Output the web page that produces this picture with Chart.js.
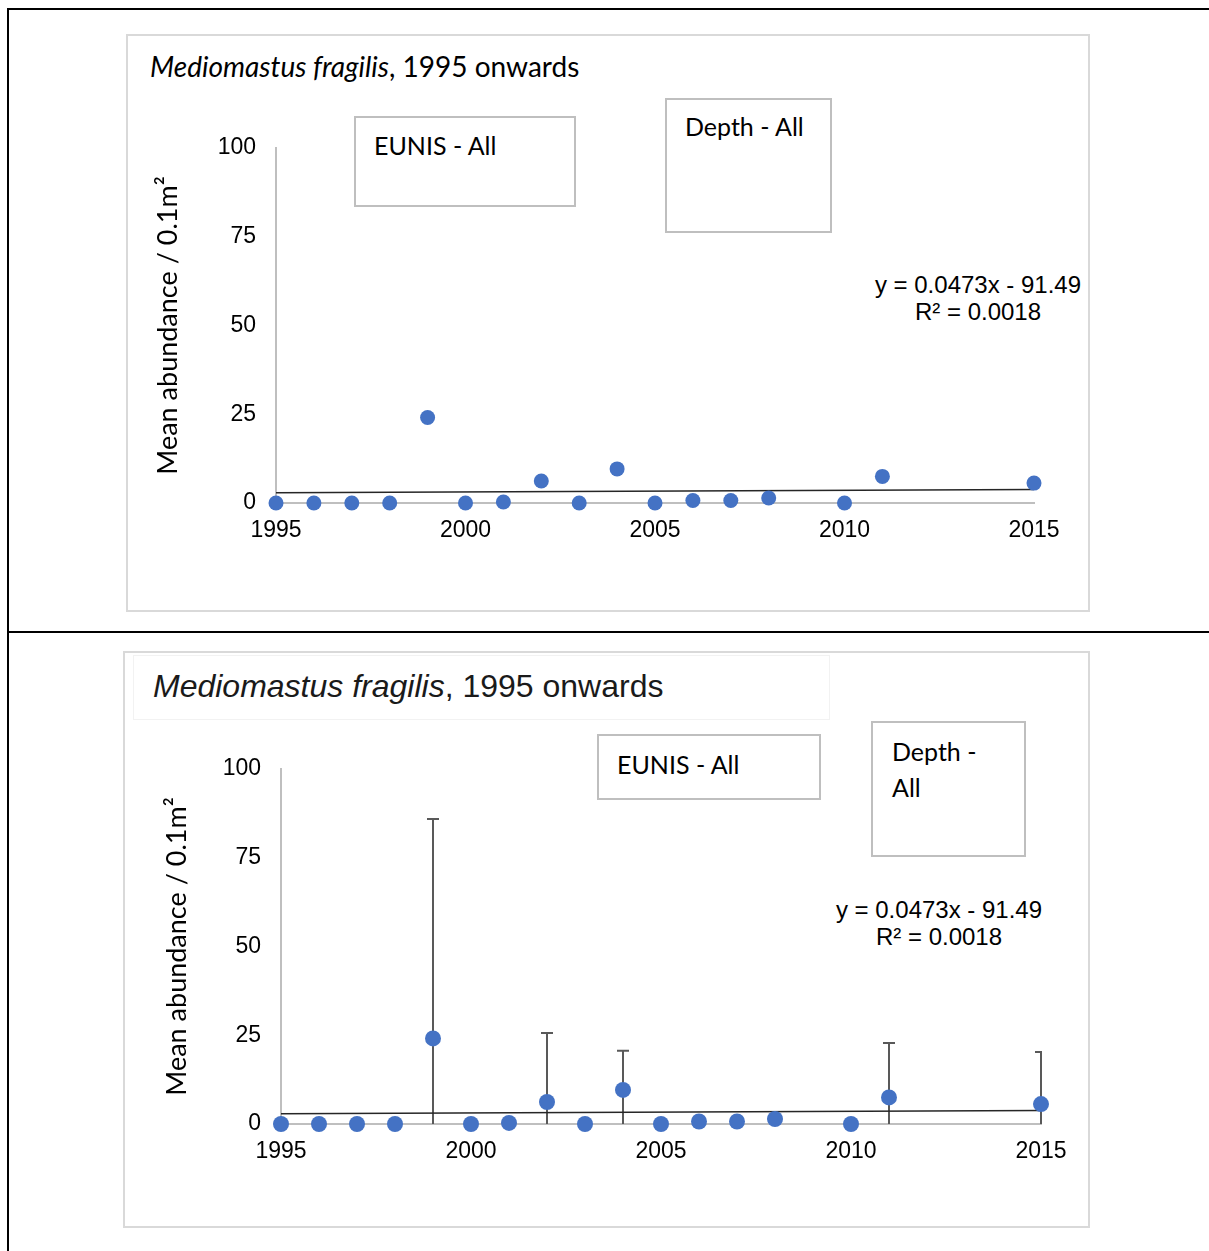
<!DOCTYPE html>
<html>
<head>
<meta charset="utf-8">
<script src="https://cdn.jsdelivr.net/npm/chart.js@4.4.1/dist/chart.umd.min.js"></script>
<style>
body { margin: 0; background: #fff; }
#page { position: relative; width: 1209px; height: 1251px; overflow: hidden; font-family: Lato, sans-serif; color: #000; }
.rule { position: absolute; background: #000; }
.frame { position: absolute; box-sizing: border-box; border: 2px solid #d9d9d9; }
canvas { position: absolute; }
.tbox { position: absolute; box-sizing: border-box; border: 2px solid #bfbfbf; font-size: 25px; line-height: 30px; padding-left: 18px; white-space: nowrap; }
.eq { position: absolute; width: 260px; font-family: 'Liberation Sans', Arial, sans-serif; font-size: 24px; line-height: 27px; text-align: center; white-space: nowrap; }
.title { position: absolute; white-space: nowrap; }
</style>
</head>
<body>
<div id="page">
  <div class="rule" style="left:7px;top:8px;width:1202px;height:2px"></div>
  <div class="rule" style="left:7px;top:8px;width:2px;height:1243px"></div>
  <div class="rule" style="left:7px;top:631px;width:1202px;height:2px"></div>

  <!-- top panel -->
  <div class="frame" style="left:126px;top:34px;width:964px;height:578px"></div>
  <div class="title" style="left:150px;top:49px;font-size:28px;line-height:34px"><i>Mediomastus fragilis</i>, 1995 onwards</div>
  <div class="tbox" style="left:354px;top:116px;width:222px;height:91px;padding-top:12px">EUNIS - All</div>
  <div class="tbox" style="left:665px;top:98px;width:167px;height:135px;padding-top:11px">Depth - All</div>
  <div class="eq" style="left:848px;top:271px">y = 0.0473x - 91.49<br>R² = 0.0018</div>
  <canvas id="chart1" width="964" height="578" style="left:126px;top:34px"></canvas>

  <!-- bottom panel -->
  <div class="frame" style="left:123px;top:651px;width:967px;height:577px"></div>
  <div class="frame" style="left:133px;top:655px;width:697px;height:65px;border:1px solid #f2f2f2"></div>
  <div class="title" style="left:153px;top:667px;font-family:'Liberation Sans',Arial,sans-serif;font-size:32px;line-height:38px;color:#1a1a1a"><i>Mediomastus fragilis</i>, 1995 onwards</div>
  <div class="tbox" style="left:597px;top:734px;width:224px;height:66px;padding-top:13px">EUNIS - All</div>
  <div class="tbox" style="left:871px;top:721px;width:155px;height:136px;padding-top:10px;line-height:36px;padding-left:19px">Depth -<br>All</div>
  <div class="eq" style="left:809px;top:896px">y = 0.0473x - 91.49<br>R² = 0.0018</div>
  <canvas id="chart2" width="967" height="577" style="left:123px;top:651px"></canvas>
</div>

<script>
// survey years with samples (no data for 2009, 2012-2014)
const years = [1995, 1996, 1997, 1998, 1999, 2000, 2001, 2002, 2003, 2004, 2005, 2006, 2007, 2008, 2010, 2011, 2015];
const abundance = [0, 0, 0, 0, 24.1, 0, 0.3, 6.2, 0, 9.6, 0, 0.7, 0.7, 1.4, 0, 7.5, 5.6];
// standard deviation, only shown in lower chart
const abundanceSD = [0, 0, 0, 0, 61.8, 0, 0, 19.4, 0, 11.0, 0, 0, 0, 0, 0, 15.3, 14.7];

// linear trend ends (y = 0.0473x - 91.49)
const trendYears = [1995, 2015];
const trendValues = [2.87, 3.82];

const yTicks = [0, 25, 50, 75, 100];
const xTicks = [1995, 2000, 2005, 2010, 2015];

const blue = '#4472C4';

const errorBars = {
    id: 'errorBars',
    beforeDatasetsDraw(chart) {
        const ds = chart.data.datasets[0];
        if (!ds.errorSD) return;
        const { ctx, chartArea, scales: { x, y } } = chart;
        ctx.save();
        ctx.beginPath();
        ctx.rect(chartArea.left, chartArea.top - 2, chartArea.right - chartArea.left + 1, chartArea.bottom - chartArea.top + 4);
        ctx.clip();
        ctx.strokeStyle = '#595959';
        ctx.lineWidth = 2;
        ds.data.forEach((p, i) => {
            const sd = ds.errorSD[i];
            if (!sd) return;
            const px = x.getPixelForValue(p.x);
            const top = y.getPixelForValue(p.y + sd);
            const bot = y.getPixelForValue(Math.max(p.y - sd, 0));
            ctx.beginPath();
            ctx.moveTo(px, bot);
            ctx.lineTo(px, top);
            ctx.moveTo(px - 6, top);
            ctx.lineTo(px + 6, top);
            ctx.stroke();
        });
        ctx.restore();
    }
};

function makeChart(id, cfg) {
    const points = years.map((yr, i) => ({ x: yr, y: abundance[i] }));
    const trend = trendYears.map((yr, i) => ({ x: yr, y: trendValues[i] }));
    const tickFont = { family: "'Liberation Sans', Arial, sans-serif", size: 23 };
    const dsPoints = {
        data: points,
        showLine: false,
        pointRadius: cfg.radius,
        pointHoverRadius: cfg.radius,
        pointBackgroundColor: blue,
        pointBorderWidth: 0,
        clip: false,
        order: 0
    };
    if (cfg.withSD) dsPoints.errorSD = abundanceSD;

    return new Chart(document.getElementById(id), {
        type: 'scatter',
        data: {
            datasets: [dsPoints, {
                data: trend,
                showLine: true,
                borderColor: '#262626',
                borderWidth: 1.5,
                pointRadius: 0,
                clip: false,
                order: 1
            }]
        },
        options: {
            responsive: false,
            animation: false,
            layout: { padding: { left: 0, top: cfg.top, right: cfg.right, bottom: 0 } },
            plugins: { legend: { display: false }, tooltip: { enabled: false } },
            scales: {
                x: {
                    type: 'linear',
                    min: 1995,
                    max: 2015,
                    afterBuildTicks: s => { s.ticks = xTicks.map(v => ({ value: v })); },
                    afterFit: s => { s.height = cfg.xHeight; },
                    grid: { drawOnChartArea: false, drawTicks: false },
                    border: { color: '#bfbfbf', width: 2 },
                    ticks: { color: '#000', font: tickFont, padding: 14, maxRotation: 0, callback: v => String(v) }
                },
                y: {
                    min: 0,
                    max: 100,
                    afterBuildTicks: s => { s.ticks = yTicks.map(v => ({ value: v })); },
                    afterFit: s => { s.width = cfg.left; },
                    grid: { drawOnChartArea: false, drawTicks: false },
                    border: { color: '#bfbfbf', width: 2 },
                    ticks: { color: '#000', font: tickFont, padding: 20 },
                    title: {
                        display: true,
                        text: 'Mean abundance / 0.1m²',
                        color: '#000',
                        font: { family: 'Lato', size: 27 },
                        padding: { top: cfg.titlePad, bottom: 0 }
                    }
                }
            }
        },
        plugins: [errorBars]
    });
}

makeChart('chart1', { left: 150, top: 114, right: 56, xHeight: 109, radius: 7.5, titlePad: 26, withSD: false });
makeChart('chart2', { left: 158, top: 118, right: 49, xHeight: 104, radius: 8, titlePad: 38, withSD: true });
</script>
</body>
</html>
